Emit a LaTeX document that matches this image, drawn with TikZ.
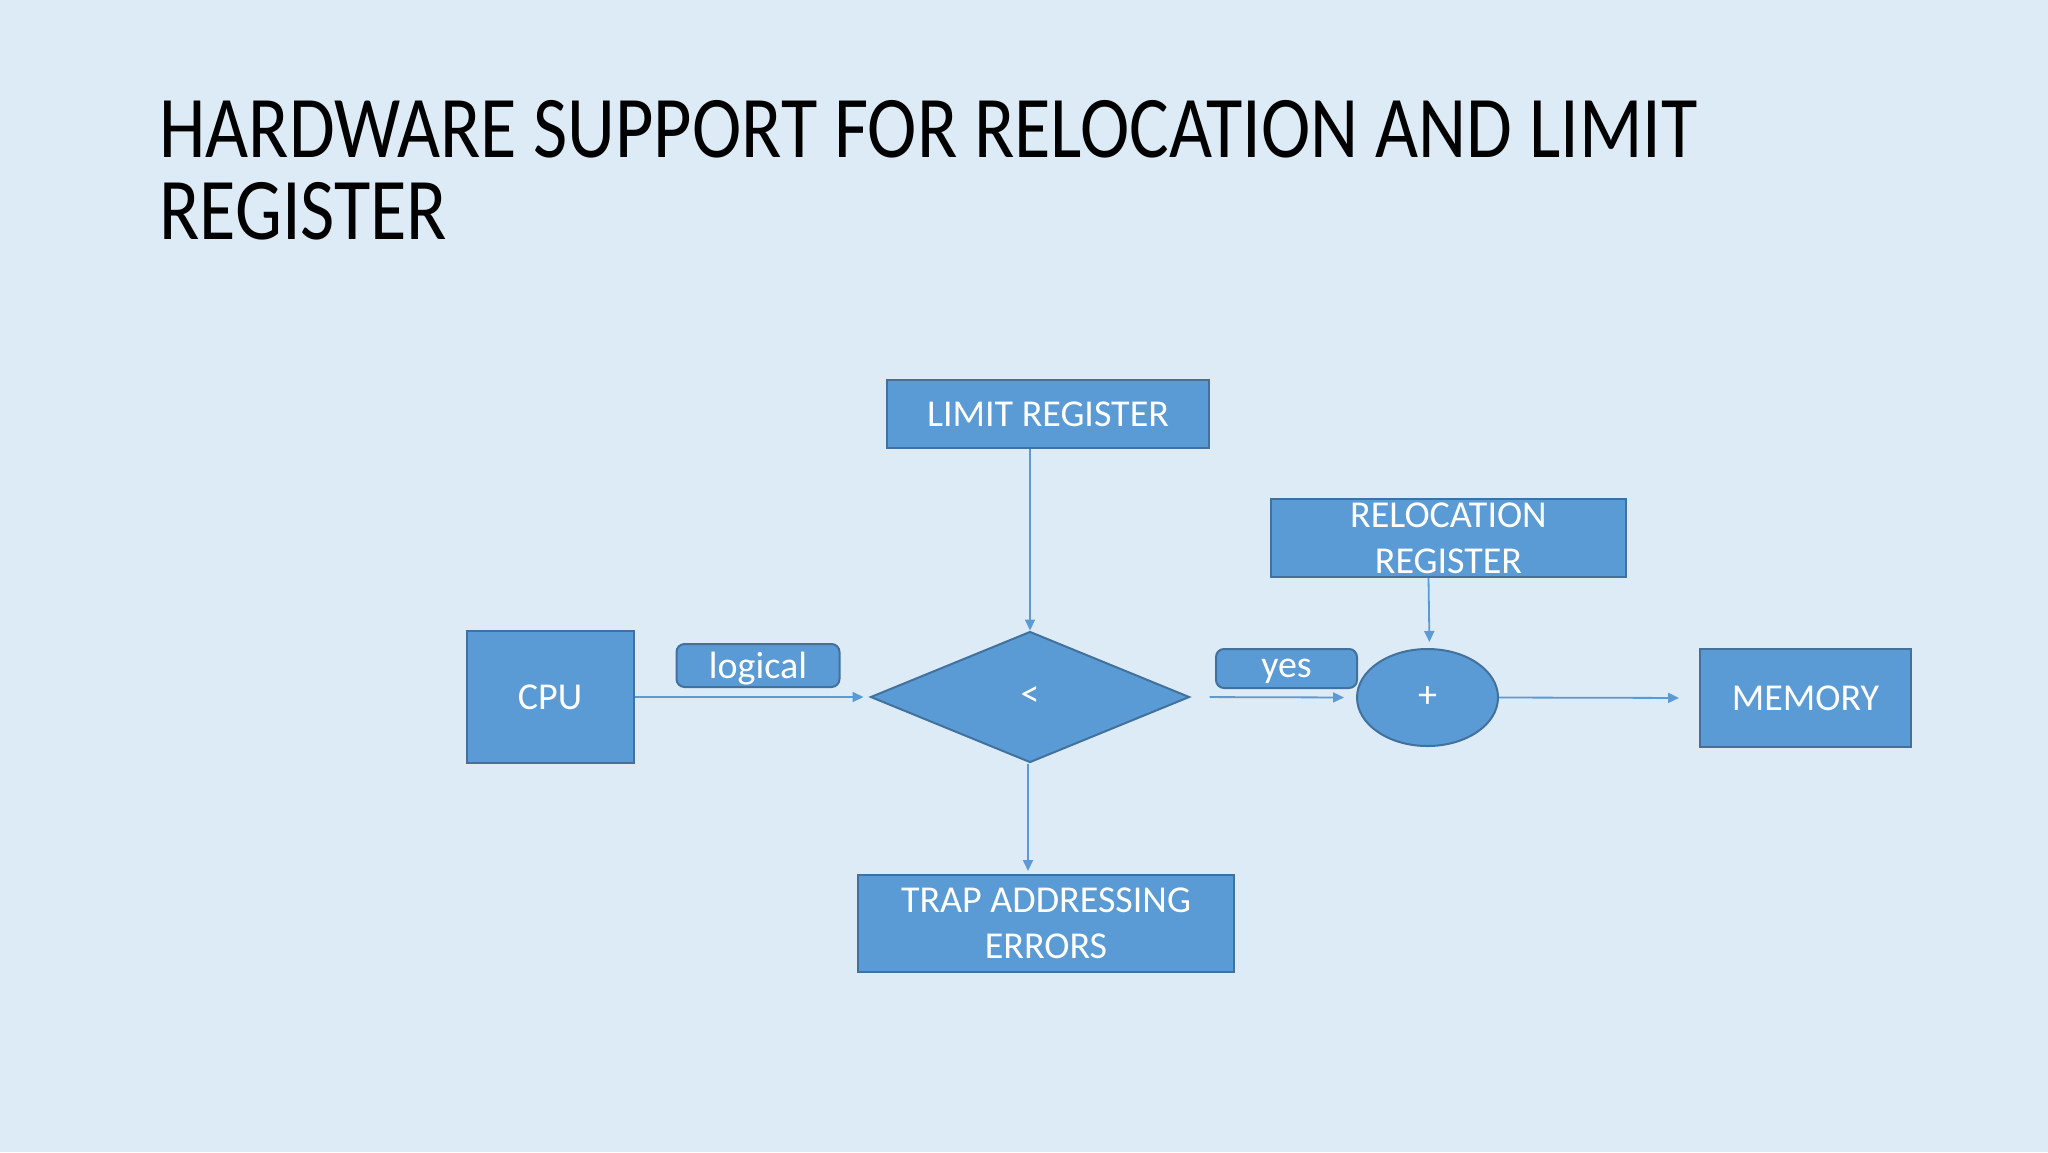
\documentclass[tikz,border=0pt]{standalone}
\usepackage{fontspec}
\setmainfont{Carlito}
\usetikzlibrary{shapes.geometric,arrows.meta}
\definecolor{bgc}{RGB}{221,235,247}
\definecolor{boxfill}{RGB}{91,155,213}
\definecolor{boxline}{RGB}{65,113,156}
\begin{document}
\begin{tikzpicture}[x=0.5pt,y=-0.5pt,
  boxnode/.style={draw=boxline,fill=boxfill,text=white,line width=1pt,inner sep=0pt,
    font=\fontsize{19}{23}\selectfont,align=center},
  tagnode/.style={boxnode,rounded corners=4pt,text depth=0pt},
  conn/.style={draw=boxfill,line width=0.9pt,-{Triangle[length=5.5pt,width=5pt]}},
  titletext/.style={anchor=base west,inner sep=0pt,font=\fontsize{44}{52}\selectfont,text=black,xscale=0.845}]
\fill[bgc] (0,0) rectangle (2048,1152);
\node[titletext] (t1) at (159,157) {HARDWARE SUPPORT FOR RELOCATION AND LIMIT};
\node[titletext] (t2) at (159,239) {REGISTER};
\node[boxnode,minimum width=161pt,minimum height=34pt] (limit) at (1048,414) {LIMIT REGISTER};
\node[boxnode,minimum width=177.5pt,minimum height=39pt] (reloc) at (1448.5,538) {RELOCATION\\REGISTER};
\node[boxnode,minimum width=83.5pt,minimum height=66pt] (cpu) at (550,697) {CPU};
\node[tagnode,minimum width=81.5pt,minimum height=21.5pt] (logical) at (758,665.5) {logical};
\node[boxnode,diamond,aspect=2.44,minimum width=159.5pt,minimum height=65.5pt] (cmp) at (1030,697) {<};
\node[boxnode,minimum width=188pt,minimum height=48.5pt] (trap) at (1046,923.5) {TRAP ADDRESSING\\ERRORS};
\node[tagnode,minimum width=70.5pt,minimum height=19.5pt] (yes) at (1286.5,668.5) {yes};
\node[boxnode,ellipse,minimum width=70.5pt,minimum height=48.5pt] (plus) at (1427.5,697.5) {+};
\node[boxnode,minimum width=105.5pt,minimum height=49pt] (mem) at (1805.5,698) {MEMORY};
\draw[conn,shorten >=3pt] (cpu.east) -- (cmp.west);
\draw[conn] (limit.south -| cmp.north) -- (cmp.north);
\draw[conn,shorten >=1.5pt] ([xshift=-1pt]cmp.south) -- ([xshift=-1pt]cmp.south |- trap.north);
\draw[conn,shorten <=9.5pt,shorten >=6pt] (cmp.east) -- (plus.west);
\draw[conn,shorten >=3pt] ([xshift=-10pt]reloc.south) -- ([xshift=1pt]plus.north);
\draw[conn,shorten >=10pt] (plus.east) -- (mem.west);
\end{tikzpicture}
\end{document}
